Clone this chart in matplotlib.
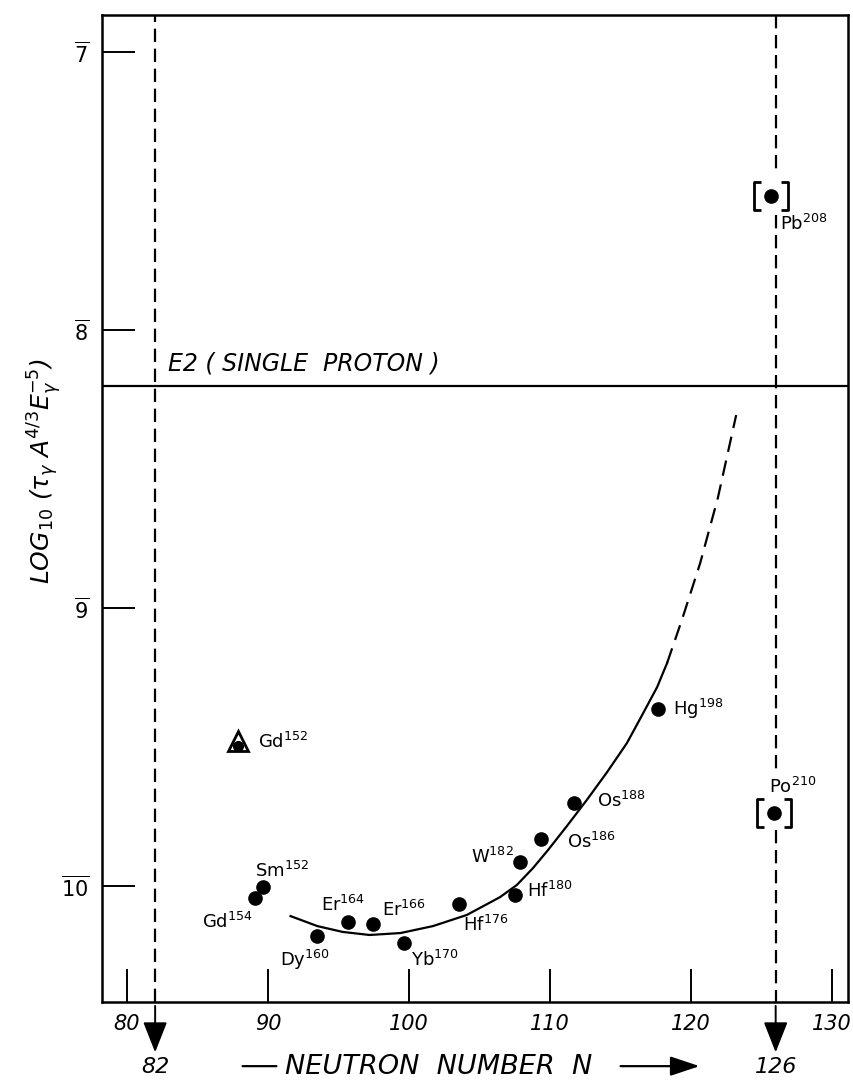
import matplotlib
matplotlib.use('Agg')
import matplotlib.pyplot as plt
from matplotlib.path import Path

plt.rcParams['font.family'] = ['DejaVu Sans']
plt.rcParams['mathtext.fontset'] = 'dejavusans'
plt.rcParams['mathtext.default'] = 'it'

# measured nuclei (neutron number N, log10 of reduced lifetime, drawn downward)
nuc_sym = ['Gd', 'Sm', 'Dy', 'Er', 'Er', 'Yb', 'Hf', 'Hf', 'W', 'Os', 'Os', 'Hg']
nuc_mass = ['154', '152', '160', '164', '166', '170', '176', '180', '182', '186', '188', '198']
nuc_n = [89.1, 89.65, 93.5, 95.7, 97.45, 99.65, 103.55, 107.5, 107.9, 109.35, 111.7, 117.65]
nuc_tau = [10.043, 10.004, 10.18, 10.129, 10.137, 10.205, 10.065, 10.032, 9.914, 9.831, 9.701, 9.363]

# bracketed (uncertain) points on N = 126
brk_sym = ['Pb', 'Po']
brk_mass = ['208', '210']
brk_n = [125.7, 125.9]
brk_tau = [7.518, 9.737]

# Gd152 (triangle)
tri_sym = 'Gd'
tri_mass = '152'
tri_n = 87.9
tri_tau = 9.48

# hand-drawn trend curve
curve_n = [91.6, 93.5, 95.3, 97.2, 99.4, 101.7, 104.1, 106.45, 107.65, 108.8,
           109.85, 111.2, 112.6, 114.05, 115.45, 116.5, 117.6, 118.3]
curve_tau = [10.108, 10.144, 10.165, 10.176, 10.169, 10.144, 10.104, 10.04, 9.996, 9.935,
             9.871, 9.784, 9.691, 9.59, 9.486, 9.388, 9.284, 9.198]
curve_dash_n = [118.3, 119.35, 120.65, 121.9, 123.2]
curve_dash_tau = [9.198, 9.043, 8.838, 8.604, 8.306]

e2_level = 8.20
magic_n = [82, 126]
gap126 = [(6.867, 7.436), (7.587, 9.60), (9.798, 10.417)]

x_ticks = [80, 90, 100, 110, 120, 130]
y_ticks = [7, 8, 9, 10]
y_ticklabels = [r'$\overline{7}$', r'$\overline{8}$', r'$\overline{9}$', r'$\overline{10}$']

# label placement: offset in points, alignment
nuc_off = [(-2, -17, 'right'), (-6, 11.5, 'left'), (-27, -17, 'left'), (-20, 12, 'left'),
           (6.5, 10, 'left'), (5, -12, 'left'), (3, -15, 'left'), (8.6, 3, 'left'),
           (-5, 4, 'right'), (19, -2, 'left'), (16.5, 1.5, 'left'), (11, 0, 'left')]
brk_off = [(6.5, -20, 'left'), (-4, 19, 'left')]

fig = plt.figure(figsize=(8.54, 10.83), dpi=100)
ax = fig.add_axes([0.1194, 0.0748, 0.8736, 0.9114])
ax.set_xlim(78.23, 131.13)
ax.set_ylim(10.417, 6.867)

for sp in ax.spines.values():
    sp.set_linewidth(1.8)

ax.set_xticks(x_ticks)
ax.set_xticklabels([str(t) for t in x_ticks], fontstyle='italic')
ax.set_yticks(y_ticks)
ax.set_yticklabels(y_ticklabels)
ax.tick_params(direction='in', length=24, width=1.4, labelsize=15, pad=9)

dash = (0, (6, 3))
ax.axvline(magic_n[0], color='k', lw=1.6, ls=dash)
for lo, hi in gap126:
    ax.plot([magic_n[1], magic_n[1]], [lo, hi], color='k', lw=1.6, ls=dash)

ax.axhline(e2_level, color='k', lw=1.6)
ax.text(82.9, 8.12, 'E2 ( SINGLE  PROTON )', fontsize=17, fontstyle='italic', va='center', ha='left')

ax.plot(curve_n, curve_tau, color='k', lw=1.6)
ax.plot(curve_dash_n, curve_dash_tau, color='k', lw=1.6, ls=(0, (7, 4)))

ax.plot(nuc_n, nuc_tau, 'o', color='k', ms=9.5)
for s, m, x, y, (dx, dy, ha) in zip(nuc_sym, nuc_mass, nuc_n, nuc_tau, nuc_off):
    ax.annotate(s + r'$^{\mathregular{' + m + '}}$', (x, y), xytext=(dx, dy),
                textcoords='offset points', ha=ha, va='center', fontsize=13)

bracket = Path([(-0.3, 0.41), (-0.5, 0.41), (-0.5, -0.41), (-0.3, -0.41),
                (0.3, 0.41), (0.5, 0.41), (0.5, -0.41), (0.3, -0.41)],
               [Path.MOVETO, Path.LINETO, Path.LINETO, Path.LINETO,
                Path.MOVETO, Path.LINETO, Path.LINETO, Path.LINETO])
ax.plot(brk_n, brk_tau, 'o', color='k', ms=9.5)
ax.plot(brk_n, brk_tau, ls='none', marker=bracket, ms=25, mec='k', mfc='none', mew=2)
for s, m, x, y, (dx, dy, ha) in zip(brk_sym, brk_mass, brk_n, brk_tau, brk_off):
    ax.annotate(s + r'$^{\mathregular{' + m + '}}$', (x, y), xytext=(dx, dy),
                textcoords='offset points', ha=ha, va='center', fontsize=13)

ax.plot([tri_n], [tri_tau], '^', ms=15, mec='k', mfc='white', mew=2)
ax.plot([tri_n], [tri_tau + 0.015], 'o', color='k', ms=7)
ax.annotate(tri_sym + r'$^{\mathregular{' + tri_mass + '}}$', (tri_n, tri_tau), xytext=(14, 0),
            textcoords='offset points', ha='left', va='center', fontsize=13)

# arrows for magic numbers below the axis
tr = ax.get_xaxis_transform()
for n in magic_n:
    ax.annotate('', xy=(n, -0.051), xytext=(n, -0.004), xycoords=tr, textcoords=tr,
                arrowprops=dict(arrowstyle='-|>,head_length=1.9,head_width=0.75', lw=1.4,
                                color='k', mutation_scale=10, shrinkA=0, shrinkB=0),
                annotation_clip=False)
    ax.text(n, -0.066, str(n), transform=tr, ha='center', va='center', fontsize=16,
            fontstyle='italic')

# axis title with arrow
ax.annotate('', xy=(90.6, -0.065), xytext=(88.2, -0.065), xycoords=tr, textcoords=tr,
            arrowprops=dict(arrowstyle='-', lw=1.6, color='k', shrinkA=0, shrinkB=0),
            annotation_clip=False)
ax.text(91.2, -0.066, 'NEUTRON  NUMBER  N', transform=tr, ha='left', va='center',
        fontsize=19.5, fontstyle='italic')
ax.annotate('', xy=(120.6, -0.065), xytext=(115.0, -0.065), xycoords=tr, textcoords=tr,
            arrowprops=dict(arrowstyle='-|>,head_length=1.8,head_width=0.6', lw=1.6,
                            color='k', mutation_scale=10, shrinkA=0, shrinkB=0),
            annotation_clip=False)

fig.text(45 / 854, 1 - 471 / 1083, r'LOG$_{10}$ ($\tau_{\gamma}$ A$^{4/3}$E$_{\gamma}^{-5}$)',
         rotation=90, ha='center', va='center', fontsize=18, fontstyle='italic')

fig.savefig('out.png', dpi=100)
